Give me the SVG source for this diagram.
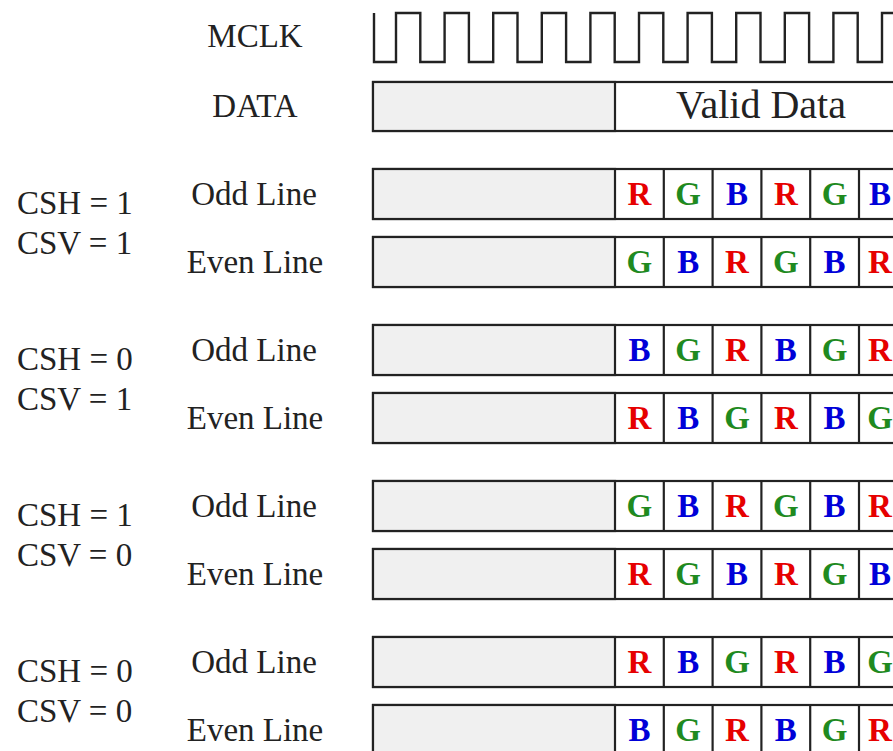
<svg xmlns="http://www.w3.org/2000/svg" width="893" height="751" viewBox="0 0 893 751">
<style>
.lbl{font-family:"Liberation Serif","Times New Roman",serif;font-size:33px;fill:#222}
.mid{text-anchor:middle}
.box{fill:#fff;stroke:#222;stroke-width:2.2}
.pre{fill:#f0f0f0;stroke:#222;stroke-width:2.2}
.div{stroke:#222;stroke-width:2.2}
.c{font-family:"Liberation Serif","Times New Roman",serif;font-size:33px;font-weight:bold;text-anchor:middle}
.R{fill:#e60000}.G{fill:#1f8a1f}.B{fill:#0000d8}
.clk{fill:none;stroke:#222;stroke-width:2.4}
</style>
<defs>
<g id="cells">
<rect class="box" x="373" y="0" width="540" height="50"/>
<rect class="pre" x="373" y="0" width="242" height="50"/>
<line class="div" x1="663.8" y1="0" x2="663.8" y2="50"/>
<line class="div" x1="712.6" y1="0" x2="712.6" y2="50"/>
<line class="div" x1="761.4" y1="0" x2="761.4" y2="50"/>
<line class="div" x1="810.2" y1="0" x2="810.2" y2="50"/>
<line class="div" x1="859" y1="0" x2="859" y2="50"/>
</g>
</defs>

<g id="mclk">
<text class="lbl mid" x="255" y="47">MCLK</text>
<path class="clk" d="M374,13 V62 H396 V13 H420.3 V62 H444.6 V13 H468.9 V62 H493.2 V13 H517.5 V62 H541.8 V13 H566.1 V62 H590.4 V13 H614.7 V62 H639 V13 H663.3 V62 H687.6 V13 H711.9 V62 H736.2 V13 H760.5 V62 H784.8 V13 H809.1 V62 H833.4 V13 H857.7 V62 H882 V13 H896"/>
</g>

<g id="data">
<text class="lbl mid" x="255" y="117">DATA</text>
<rect class="box" x="373" y="82" width="540" height="49"/>
<rect class="pre" x="373" y="82" width="242" height="49"/>
<text class="lbl mid" x="761" y="118" style="font-size:40px">Valid Data</text>
</g>

<g id="group1">
<text class="lbl" x="17" y="214">CSH = 1</text>
<text class="lbl" x="17" y="254">CSV = 1</text>
<g id="g1-odd">
<text class="lbl mid" x="254" y="205">Odd Line</text>
<use href="#cells" y="169"/>
<text class="c R" x="639.4" y="205">R</text><text class="c G" x="688.2" y="205">G</text><text class="c B" x="737" y="205">B</text><text class="c R" x="785.8" y="205">R</text><text class="c G" x="834.6" y="205">G</text><text class="c B" x="880" y="205">B</text>
</g>
<g id="g1-even">
<text class="lbl mid" x="255" y="273">Even Line</text>
<use href="#cells" y="237"/>
<text class="c G" x="639.4" y="273">G</text><text class="c B" x="688.2" y="273">B</text><text class="c R" x="737" y="273">R</text><text class="c G" x="785.8" y="273">G</text><text class="c B" x="834.6" y="273">B</text><text class="c R" x="880" y="273">R</text>
</g>
</g>

<g id="group2">
<text class="lbl" x="17" y="370">CSH = 0</text>
<text class="lbl" x="17" y="410">CSV = 1</text>
<g id="g2-odd">
<text class="lbl mid" x="254" y="361">Odd Line</text>
<use href="#cells" y="325"/>
<text class="c B" x="639.4" y="361">B</text><text class="c G" x="688.2" y="361">G</text><text class="c R" x="737" y="361">R</text><text class="c B" x="785.8" y="361">B</text><text class="c G" x="834.6" y="361">G</text><text class="c R" x="880" y="361">R</text>
</g>
<g id="g2-even">
<text class="lbl mid" x="255" y="429">Even Line</text>
<use href="#cells" y="393"/>
<text class="c R" x="639.4" y="429">R</text><text class="c B" x="688.2" y="429">B</text><text class="c G" x="737" y="429">G</text><text class="c R" x="785.8" y="429">R</text><text class="c B" x="834.6" y="429">B</text><text class="c G" x="880" y="429">G</text>
</g>
</g>

<g id="group3">
<text class="lbl" x="17" y="526">CSH = 1</text>
<text class="lbl" x="17" y="566">CSV = 0</text>
<g id="g3-odd">
<text class="lbl mid" x="254" y="517">Odd Line</text>
<use href="#cells" y="481"/>
<text class="c G" x="639.4" y="517">G</text><text class="c B" x="688.2" y="517">B</text><text class="c R" x="737" y="517">R</text><text class="c G" x="785.8" y="517">G</text><text class="c B" x="834.6" y="517">B</text><text class="c R" x="880" y="517">R</text>
</g>
<g id="g3-even">
<text class="lbl mid" x="255" y="585">Even Line</text>
<use href="#cells" y="549"/>
<text class="c R" x="639.4" y="585">R</text><text class="c G" x="688.2" y="585">G</text><text class="c B" x="737" y="585">B</text><text class="c R" x="785.8" y="585">R</text><text class="c G" x="834.6" y="585">G</text><text class="c B" x="880" y="585">B</text>
</g>
</g>

<g id="group4">
<text class="lbl" x="17" y="682">CSH = 0</text>
<text class="lbl" x="17" y="722">CSV = 0</text>
<g id="g4-odd">
<text class="lbl mid" x="254" y="673">Odd Line</text>
<use href="#cells" y="637"/>
<text class="c R" x="639.4" y="673">R</text><text class="c B" x="688.2" y="673">B</text><text class="c G" x="737" y="673">G</text><text class="c R" x="785.8" y="673">R</text><text class="c B" x="834.6" y="673">B</text><text class="c G" x="880" y="673">G</text>
</g>
<g id="g4-even">
<text class="lbl mid" x="255" y="741">Even Line</text>
<use href="#cells" y="705"/>
<text class="c B" x="639.4" y="741">B</text><text class="c G" x="688.2" y="741">G</text><text class="c R" x="737" y="741">R</text><text class="c B" x="785.8" y="741">B</text><text class="c G" x="834.6" y="741">G</text><text class="c R" x="880" y="741">R</text>
</g>
</g>
<g id="connectors"/>
</svg>
